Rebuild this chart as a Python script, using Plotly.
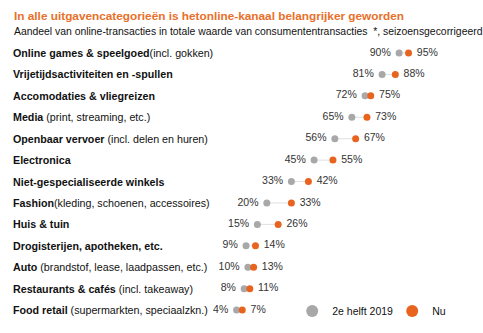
import plotly.graph_objects as go

cat_bold = ["Online games & speelgoed", "Vrijetijdsactiviteiten en -spullen", "Accomodaties & vliegreizen",
            "Media", "Openbaar vervoer", "Electronica", "Niet-gespecialiseerde winkels", "Fashion",
            "Huis & tuin", "Drogisterijen, apotheken, etc.", "Auto", "Restaurants & cafés", "Food retail"]
cat_rest = ["(incl. gokken)", "", "", " (print, streaming, etc.)", " (incl. delen en huren)", "", "",
            "(kleding, schoenen, accessoires)", "", "", " (brandstof, lease, laadpassen, etc.)",
            " (incl. takeaway)", " (supermarkten, speciaalzkn.)"]
h2_2019 = [90, 81, 72, 65, 56, 45, 33, 20, 15, 9, 10, 8, 4]
nu = [95, 88, 75, 73, 67, 55, 42, 33, 26, 14, 13, 11, 7]

GRAY = "#A8A8A8"
ORANGE = "#E8641E"
rows = list(range(len(cat_bold)))

fig = go.Figure()
lx, ly = [], []
for i, (a, b) in enumerate(zip(h2_2019, nu)):
    lx += [a, b, None]
    ly += [i, i, None]
fig.add_trace(go.Scatter(x=lx, y=ly, mode="lines", line=dict(color="#DDE0E4", width=1),
                         showlegend=False, hoverinfo="skip"))
fig.add_trace(go.Scatter(x=h2_2019, y=rows, mode="markers+text", name="2e helft 2019",
                         marker=dict(color=GRAY, size=7),
                         text=[f"{v}% " for v in h2_2019], textposition="middle left",
                         textfont=dict(size=10.5, color="#333333")))
fig.add_trace(go.Scatter(x=nu, y=rows, mode="markers+text", name="Nu",
                         marker=dict(color=ORANGE, size=7),
                         text=[f" {v}%" for v in nu], textposition="middle right",
                         textfont=dict(size=10.5, color="#333333")))

for i, (b, r) in enumerate(zip(cat_bold, cat_rest)):
    fig.add_annotation(x=-115.5, y=i, xref="x", yref="y", xanchor="left", yanchor="middle",
                       text=f"<b>{b}</b>{r}", showarrow=False,
                       font=dict(size=10.7, color="#111111"))

fig.add_annotation(x=12 / 483, y=1 - 16 / 333, xref="paper", yref="paper", xanchor="left", yanchor="middle",
                   text="<b>In alle uitgavencategorieën is hetonline-kanaal belangrijker geworden</b>",
                   showarrow=False, font=dict(size=11.8, color="#E8702A"))
fig.add_annotation(x=12 / 483, y=1 - 31 / 333, xref="paper", yref="paper", xanchor="left", yanchor="middle",
                   text="Aandeel van online-transacties in totale waarde van consumententransacties  *, seizoensgecorrigeerd",
                   showarrow=False, font=dict(size=10.4, color="#111111"))

fig.update_layout(
    width=483, height=333, margin=dict(l=0, r=0, t=0, b=0, autoexpand=False),
    paper_bgcolor="white", plot_bgcolor="white",
    font=dict(family="Liberation Sans, Arial, sans-serif"),
    xaxis=dict(range=[-121.2, 134.4], visible=False, fixedrange=True, automargin=False),
    yaxis=dict(range=[13.07, -2.474], visible=False, fixedrange=True, automargin=False),
    legend=dict(orientation="h", x=0.605, y=1 - 311 / 333, xanchor="left", yanchor="middle",
                font=dict(size=10.5, color="#111111"), itemsizing="constant",
                entrywidth=55, entrywidthmode="pixels", bgcolor="rgba(0,0,0,0)"),
)
fig.write_html("out.html")
